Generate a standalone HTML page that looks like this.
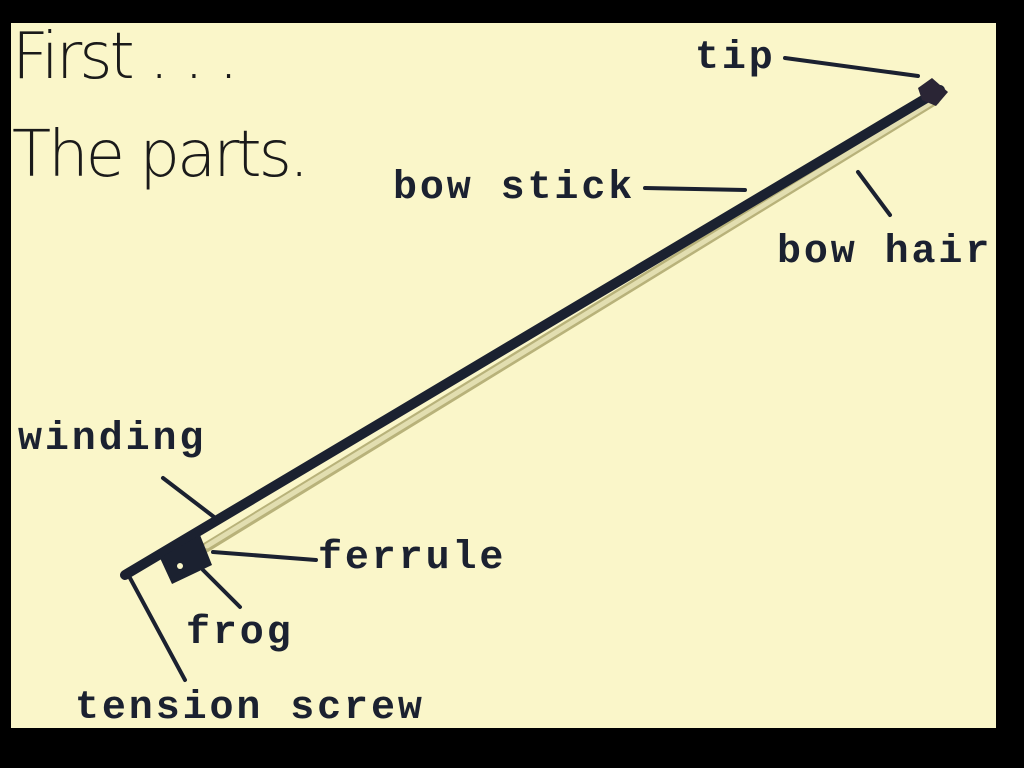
<!DOCTYPE html>
<html><head><style>
body{margin:0;background:#000;width:1024px;height:768px;overflow:hidden;position:relative}
.bg{position:absolute;left:11px;top:23px;width:985px;height:705px;background:#faf6c9}
.t{position:absolute;left:12px;font-family:"DejaVu Sans","Liberation Sans",sans-serif;font-weight:200;font-size:64px;color:#1a1a1a;letter-spacing:-3px;line-height:1}
svg{position:absolute;left:0;top:0}
text{font-family:"Liberation Mono",monospace;font-weight:bold;font-size:40px;letter-spacing:2.9px;fill:#1b2130}
</style></head><body>
<div class="bg"></div>
<div class="t" style="top:25px">First . . .</div>
<div class="t" style="top:123px">The parts.</div>
<svg width="1024" height="768">
<g stroke="#1b2130" stroke-linecap="round" fill="none">
<line x1="205" y1="548" x2="935" y2="100" stroke="#b8b27a" stroke-width="10"/>
<line x1="207" y1="546" x2="934" y2="101" stroke="#e2deb0" stroke-width="5"/>
<line x1="125" y1="575" x2="940" y2="90" stroke-width="10"/>
<line x1="785" y1="58" x2="918" y2="76" stroke-width="4"/>
<line x1="645" y1="188" x2="745" y2="190" stroke-width="4"/>
<line x1="858" y1="172" x2="890" y2="215" stroke-width="4"/>
<line x1="163" y1="478" x2="218" y2="520" stroke-width="4"/>
<line x1="213" y1="552" x2="316" y2="560" stroke-width="4"/>
<line x1="203" y1="570" x2="240" y2="607" stroke-width="4"/>
<line x1="130" y1="578" x2="185" y2="680" stroke-width="4"/>
</g>
<polygon points="160,558 200,535 212,565 172,584" fill="#1b2130"/>
<circle cx="180" cy="566" r="3" fill="#faf6c9"/>
<polygon points="918,88 932,78 948,92 936,106 922,100" fill="#2a2535"/>
<text x="695" y="68">tip</text>
<text x="393" y="198">bow stick</text>
<text x="777" y="262">bow hair</text>
<text x="18" y="449">winding</text>
<text x="318" y="568">ferrule</text>
<text x="186" y="643">frog</text>
<text x="75" y="718">tension screw</text>
</svg>
</body></html>
